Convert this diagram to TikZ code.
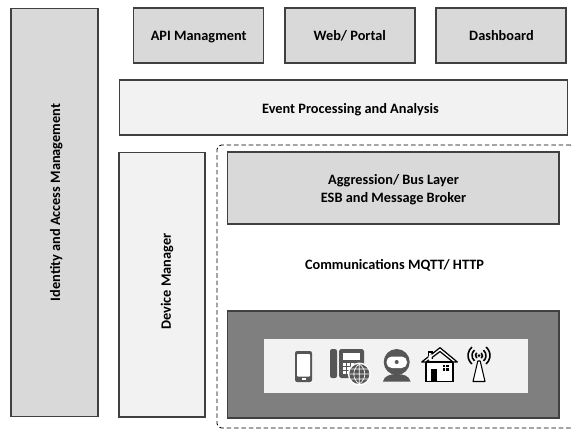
\documentclass[tikz,border=0pt]{standalone}
\usepackage{fontspec}
\setmainfont{Carlito}
\usepackage{xcolor}
\usepackage{tikz}
\definecolor{boxgray}{HTML}{D9D9D9}
\definecolor{boxlight}{HTML}{F2F2F2}
\definecolor{boxdark}{HTML}{7F7F7F}
\definecolor{icongray}{HTML}{565656}
\definecolor{linegray}{HTML}{404040}

\begin{document}
\begin{tikzpicture}
            [x=.02cm,y=-.02cm,
            block/.style={draw=linegray,line width=.6pt,outer sep=0pt,inner sep=0pt},
            gray block/.style={block,fill=boxgray},
            light block/.style={block,fill=boxlight},
            caption/.style={inner sep=0pt,align=center,font=\fontsize{8.15}{10.4}\selectfont\bfseries},
            one line/.style={caption,text height=7pt,text depth=1.1pt},
            icon/.style={fill=icongray,draw=none}]
            \useasboundingbox (0,0) rectangle (571,430);

            \node[draw=black,dash pattern=on 2.6pt off 1.6pt,line width=.5pt,rounded corners=2.5pt,minimum width=7.16cm,minimum height=5.66cm] (edge) at (396,286.5) {};

            \node[gray block,minimum width=1.74cm,minimum height=8.18cm] (identity) at (54.5,212.5) {};
            \node[gray block,minimum width=2.6cm,minimum height=1.1cm] (api) at (198.5,35.5) {};
            \node[gray block,minimum width=2.6cm,minimum height=1.1cm] (web) at (350,35.5) {};
            \node[gray block,minimum width=2.6cm,minimum height=1.1cm] (dash) at (501,35.5) {};
            \node[light block,minimum width=8.98cm,minimum height=1.1cm] (event) at (343.5,107.5) {};
            \node[light block,minimum width=1.72cm,minimum height=5.3cm] (device) at (162,284.5) {};
            \node[gray block,minimum width=6.64cm,minimum height=1.44cm] (bus) at (393,188) {};
            \node[block,fill=boxdark,minimum width=6.64cm,minimum height=2.14cm] (things) at (393,364.5) {};
            \node[fill=boxlight,outer sep=0pt,minimum width=5.28cm,minimum height=1.08cm] (tray) at (396,366) {};

            \node[one line] (apitext) at (198.7,35.5) {API Managment};
            \node[one line] (webtext) at (349.8,35.5) {Web/ Portal};
            \node[one line] (dashtext) at (501.5,35.5) {Dashboard};
            \node[one line] (eventtext) at (350.5,108) {Event Processing and Analysis};
            \node[caption] (bustext) at (393.5,189.5) {Aggression/ Bus Layer\\ESB and Message Broker};
            \node[one line] (commtext) at (394.5,264.5) {Communications MQTT/ HTTP};
            \node[one line,rotate=90] (identitytext) at (55,202.5) {Identity and Access Management};
            \node[one line,rotate=90] (devicetext) at (165.7,281.5) {Device Manager};

            % mobile
            \fill[icon,rounded corners=1.2pt] (295,351) rectangle (312,382);
            \fill[white,rounded corners=.5pt] (297,354) rectangle (310,376.5);
            \fill[white] (301.5,378.2) rectangle (305.5,380);

            % desk phone
            \fill[icon,rounded corners=1.2pt] (330,349) rectangle (337,378);
            \fill[icon,rounded corners=1pt] (339,349) rectangle (364,378);
            \fill[white] (343,353) rectangle (360,359.5);
            \foreach \i in {0,1,2}
                \foreach \j in {0,1,2}
                    \fill[white] (343+4*\i,363+4*\j) rectangle ++(2.6,2.6);
            \fill[white] (359.3,374) circle[radius=11.5];
            \fill[icon] (359.3,374) circle[radius=10];
            \draw[white,line width=.35pt] (349.3,374) -- (369.3,374) (350.5,369) -- (368.1,369) (350.5,379) -- (368.1,379) (359.3,364) -- (359.3,384)
                (359.3,364) .. controls (352,369) and (352,379) .. (359.3,384)
                (359.3,364) .. controls (366.6,369) and (366.6,379) .. (359.3,384);

            % webcam
            \fill[icon] (396.7,362) circle[radius=13];
            \fill[icon] (383,381.5) .. controls (384,376) and (390,374) .. (396.7,374) .. controls (403.4,374) and (409.5,376) .. (410.5,381.5) -- cycle;
            \fill[white,rounded corners=3pt] (386.5,356.5) -- (407,356.5) -- (407,368) -- (386.5,368) -- cycle;
            \fill[icon] (396.7,362) circle[radius=2];

            % house
            \draw[black,fill=white,line width=.6pt] (426,362) -- (453,362) -- (453,381.5) -- (426,381.5) -- cycle;
            \draw[black,fill=white,line width=.6pt] (428.2,352) rectangle (432,358);
            \draw[black,fill=white,line width=.7pt,line join=round] (421.7,362) -- (440,347.7) -- (457.3,362) -- (453,362) -- (440,351.5) -- (426,362) -- cycle;
            \fill[white] (428.5,356) -- (431.7,353.5) -- (431.7,360) -- (428.5,360) -- cycle;
            \fill[black] (430.7,369) rectangle (436.7,380.5);
            \foreach \i in {0,1}
                \foreach \j in {0,1}
                    \fill[black] (442.5+3.4*\i,364.5+3.4*\j) rectangle ++(2.8,2.8);

            % antenna
            \draw[black,fill=white,line width=.6pt,line join=round] (477.8,361) -- (480.2,361) -- (485,381.5) -- (473,381.5) -- cycle;
            \fill[black] (479,355.5) circle[radius=1.5];
            \foreach \r in {3.5,7,11}{
                \draw[black,line width=.9pt] ([shift={(-50:\r)}]479,355.5) arc[start angle=-50,end angle=50,radius=\r];
                \draw[black,line width=.9pt] ([shift={(130:\r)}]479,355.5) arc[start angle=130,end angle=230,radius=\r];
            }
        \end{tikzpicture}
\end{document}
